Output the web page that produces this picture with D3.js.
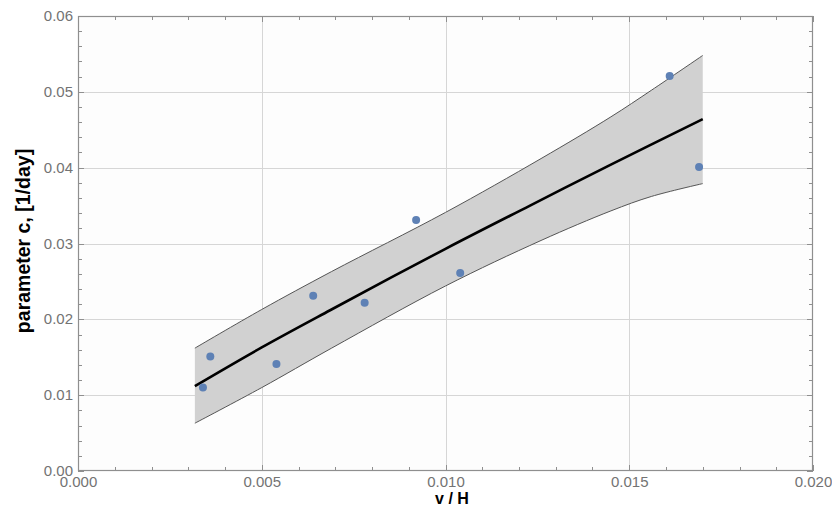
<!DOCTYPE html>
<html><head><meta charset="utf-8">
<script src="https://cdn.jsdelivr.net/npm/d3@7"></script>
<style>body{margin:0;background:#fff}svg{display:block}</style></head>
<body>
<svg id="chart" width="832" height="513"></svg>
<script>
// ---- data ----
const pointsX = [0.0034, 0.0036, 0.0054, 0.0064, 0.0078, 0.0092, 0.0104, 0.0161, 0.0169];
const pointsY = [0.0110, 0.0151, 0.0141, 0.0231, 0.0222, 0.0331, 0.0261, 0.0521, 0.0401];
const fitX = [0.00318, 0.0050, 0.00686, 0.0100, 0.0123, 0.0145, 0.0170];
const fitY = [0.0112, 0.0163, 0.0212, 0.0293, 0.0350, 0.0404, 0.0464];
const bandX = [0.00318, 0.0050, 0.0069, 0.0100, 0.0126, 0.0145, 0.0156, 0.0170];
const bandUpper = [0.0162, 0.0213, 0.0263, 0.0341, 0.0412, 0.0467, 0.0502, 0.0548];
const bandLower = [0.0063, 0.0110, 0.0162, 0.0244, 0.0304, 0.0343, 0.0362, 0.0379];
const xMajor = [0, 0.005, 0.010, 0.015, 0.020];
const xLabels = ["0.000", "0.005", "0.010", "0.015", "0.020"];
const yMajor = [0, 0.01, 0.02, 0.03, 0.04, 0.05, 0.06];
const yLabels = ["0.00", "0.01", "0.02", "0.03", "0.04", "0.05", "0.06"];
const xMinor = d3.range(0, 0.0201, 0.001);
const yMinor = d3.range(0, 0.0601, 0.002);
const xTitle = "v / H";
const yTitle = "parameter c, [1/day]";

// ---- layout ----
const L = 78, R = 813, T = 16, B = 471;
const svg = d3.select("#chart");
const x = d3.scaleLinear().domain([0, 0.02]).range([L, R]);
const y = d3.scaleLinear().domain([0, 0.06]).range([B, T]);

const frameCol = "#8f8f8f", gridCol = "#d6d6d6", labCol = "#737373";

svg.append("rect").attr("width", 832).attr("height", 513).attr("fill", "#ffffff");
svg.append("rect").attr("x", L).attr("y", T).attr("width", R - L).attr("height", B - T).attr("fill", "#fdfdfd");

// grid
const g = svg.append("g");
g.selectAll(".gx").data(xMajor.slice(1, -1)).join("line")
  .attr("x1", d => Math.round(x(d)) + 0.5).attr("x2", d => Math.round(x(d)) + 0.5)
  .attr("y1", T).attr("y2", B).attr("stroke", gridCol).attr("stroke-width", 1);
g.selectAll(".gy").data(yMajor.slice(1, -1)).join("line")
  .attr("y1", d => Math.round(y(d)) + 0.5).attr("y2", d => Math.round(y(d)) + 0.5)
  .attr("x1", L).attr("x2", R).attr("stroke", gridCol).attr("stroke-width", 1);

// band
const bandData = bandX.map((d, i) => ({x: d, u: bandUpper[i], l: bandLower[i]}));
const curve = d3.curveCatmullRom.alpha(0.5);
svg.append("path").datum(bandData)
  .attr("d", d3.area().x(d => x(d.x)).y0(d => y(d.l)).y1(d => y(d.u)).curve(curve))
  .attr("fill", "#d1d1d1");
["u", "l"].forEach(k => {
  svg.append("path").datum(bandData)
    .attr("d", d3.line().x(d => x(d.x)).y(d => y(d[k])).curve(curve))
    .attr("fill", "none").attr("stroke", "#555").attr("stroke-width", 1);
});

// fit line
const fitData = fitX.map((d, i) => ({x: d, y: fitY[i]}));
svg.append("path").datum(fitData)
  .attr("d", d3.line().x(d => x(d.x)).y(d => y(d.y)).curve(curve))
  .attr("fill", "none").attr("stroke", "#000").attr("stroke-width", 2.6);

// points
svg.append("g").selectAll("circle").data(pointsX.map((d, i) => ({x: d, y: pointsY[i]})))
  .join("circle").attr("cx", d => x(d.x)).attr("cy", d => y(d.y)).attr("r", 4)
  .attr("fill", "#5e81b5");

// axes (frame with ticks on all sides)
const axB = d3.axisBottom(x).tickValues(xMajor).tickFormat((d, i) => xLabels[i]).tickSize(0).tickPadding(5);
const axL = d3.axisLeft(y).tickValues(yMajor).tickFormat((d, i) => yLabels[i]).tickSize(0).tickPadding(5);
const gB = svg.append("g").attr("transform", `translate(0,${B})`).call(axB);
const gL = svg.append("g").attr("transform", `translate(${L},0)`).call(axL);
[gB, gL].forEach(a => {
  a.select(".domain").remove();
  a.selectAll("text").attr("fill", labCol).style("font-family", "'Liberation Sans', Arial, sans-serif").style("font-size", "15px");
});
gL.selectAll("text").attr("dy", "0.30em");

const tk = svg.append("g").attr("stroke", frameCol).attr("stroke-width", 1);
function ticks(vals, isMajor) {
  const len = isMajor ? 6 : 4;
  vals.forEach(v => {
    const px = Math.round(x(v)) + 0.5;
    tk.append("line").attr("x1", px).attr("x2", px).attr("y1", B).attr("y2", B - len);
    tk.append("line").attr("x1", px).attr("x2", px).attr("y1", T).attr("y2", T + len);
  });
}
ticks(xMinor.filter((d, i) => i % 5 !== 0), false);
ticks(xMajor, true);
function yticks(vals, isMajor) {
  const len = isMajor ? 6 : 4;
  vals.forEach(v => {
    const py = Math.round(y(v)) + 0.5;
    tk.append("line").attr("y1", py).attr("y2", py).attr("x1", L).attr("x2", L + len);
    tk.append("line").attr("y1", py).attr("y2", py).attr("x1", R).attr("x2", R - len);
  });
}
yticks(yMinor.filter((d, i) => i % 5 !== 0), false);
yticks(yMajor, true);

svg.append("rect").attr("x", L + 0.5).attr("y", T + 0.5).attr("width", R - L - 1).attr("height", B - T - 1)
  .attr("fill", "none").attr("stroke", frameCol).attr("stroke-width", 1.2);

// titles
svg.append("text").attr("x", 452).attr("y", 504).attr("text-anchor", "middle")
  .style("font-family", "'Liberation Sans Narrow', 'Liberation Sans', Arial, sans-serif")
  .style("font-weight", "bold").style("font-size", "16px").attr("fill", "#000").text(xTitle);
svg.append("text").attr("transform", "translate(30,241) rotate(-90)").attr("text-anchor", "middle")
  .style("font-family", "'Liberation Sans Narrow', 'Liberation Sans', Arial, sans-serif")
  .style("font-weight", "bold").style("font-size", "19.5px").attr("fill", "#000").text(yTitle);
</script>
</body></html>
